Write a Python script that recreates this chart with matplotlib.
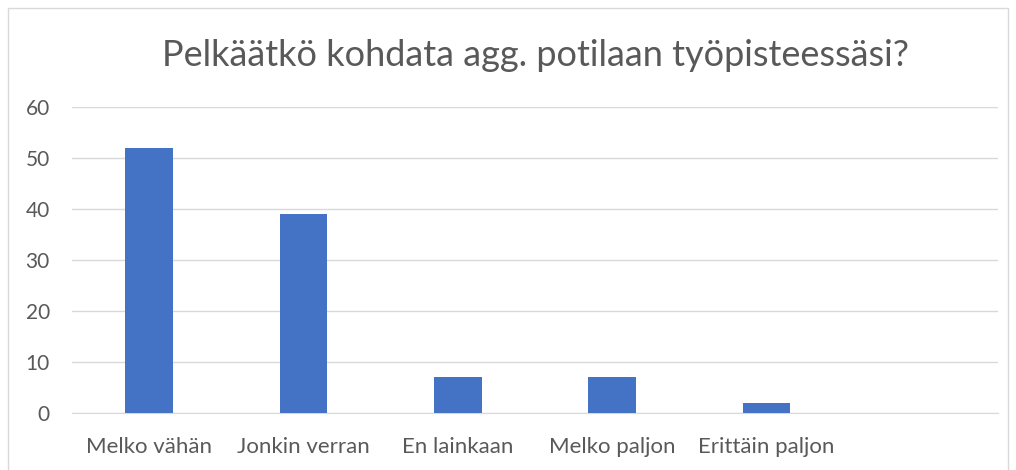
import matplotlib.pyplot as plt
from matplotlib.patches import Rectangle

# data
categories = ['Melko vähän', 'Jonkin verran', 'En lainkaan', 'Melko paljon', 'Erittäin paljon', '']
values = [52, 39, 7, 7, 2, 0]
yticks = [0, 10, 20, 30, 40, 50, 60]

W, H = 1016, 470
BAR = '#4472C4'
TXT = '#595959'
GRID = '#D9D9D9'

plt.rcParams['font.family'] = ['Lato', 'DejaVu Sans']

fig = plt.figure(figsize=(W / 100, H / 100), dpi=100)
fig.patches.append(Rectangle((8 / W, -0.01), (1008 - 8) / W, (H - 8) / H + 0.01,
                             transform=fig.transFigure, fill=False,
                             ec=GRID, lw=1))

ax = fig.add_axes([72 / W, 1 - 413 / H, (998 - 72) / W, (413 - 107) / H])
x = range(len(categories))
ax.bar(x, values, width=0.31, color=BAR, zorder=3)
ax.set_xlim(-0.5, len(categories) - 0.5)
ax.set_ylim(0, 60)
ax.set_yticks(yticks)
ax.set_xticks(list(x))
ax.set_xticklabels(categories)
ax.grid(axis='y', color=GRID, lw=1, zorder=0)
for s in ['top', 'right', 'left']:
    ax.spines[s].set_visible(False)
ax.spines['bottom'].set_color(GRID)
ax.tick_params(length=0, colors=TXT)
ax.tick_params(axis='x', pad=17, labelsize=16)
ax.tick_params(axis='y', pad=16, labelsize=15)

fig.text(535 / W, 1 - 55 / H, 'Pelkäätkö kohdata agg. potilaan työpisteessäsi?',
         ha='center', va='center', fontsize=26, color=TXT)

fig.savefig('out.png', dpi=100)
